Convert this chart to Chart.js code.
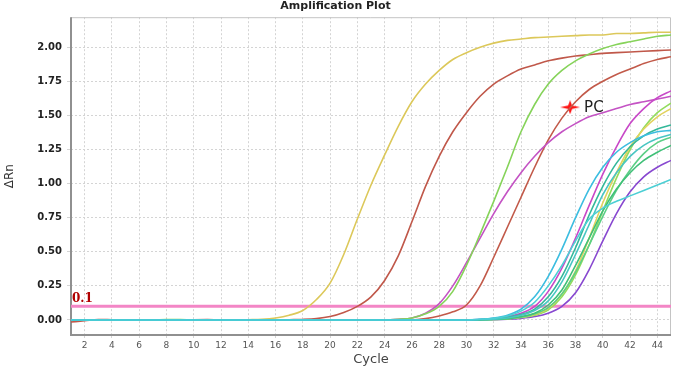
<!DOCTYPE html>
<html>
<head>
<meta charset="utf-8">
<script src="https://cdn.jsdelivr.net/npm/chart.js@4"></script>
<style>
html,body{margin:0;padding:0;background:#fff;}
#wrap{width:680px;height:369px;position:relative;}
</style>
</head>
<body>
<div id="wrap"><canvas id="c"></canvas></div>
<script>
const chartTitle = 'Amplification Plot';
const xTitle = 'Cycle';
const yTitle = 'ΔRn';
const cycles = [1,2,3,4,5,6,7,8,9,10,11,12,13,14,15,16,17,18,19,20,21,22,23,24,25,26,27,28,29,30,31,32,33,34,35,36,37,38,39,40,41,42,43,44,45];
const xTickValues = [2,4,6,8,10,12,14,16,18,20,22,24,26,28,30,32,34,36,38,40,42,44];
const yTickValues = [0,0.25,0.5,0.75,1.0,1.25,1.5,1.75,2.0];
const threshold = 0.1;
const thresholdLabel = '0.1';
const pcPoint = [37.6, 1.56];
const pcLabel = 'PC';

const yellowEarly = [0,0,0,0,0,0,0,0,0,0,0,0,0,0.002,0.005,0.015,0.035,0.07,0.15,0.27,0.48,0.74,0.99,1.21,1.42,1.6,1.73,1.83,1.91,1.96,2.0,2.03,2.05,2.06,2.07,2.075,2.08,2.085,2.09,2.09,2.1,2.1,2.105,2.11,2.11];
const red1 = [-0.015,-0.006,0.004,0.002,0,0,0,0,0,0.002,0.003,0,0,0,0,0,0.002,0.004,0.01,0.025,0.055,0.1,0.17,0.29,0.47,0.72,0.98,1.2,1.38,1.52,1.64,1.73,1.79,1.84,1.87,1.9,1.92,1.935,1.945,1.955,1.96,1.965,1.97,1.975,1.98];
const green1 = [0,0,0,0,0,0,0,0.003,0.003,0,0,0,0,0,0,0,0,0,0,0,0,0,0,0,0.005,0.015,0.045,0.1,0.21,0.4,0.63,0.87,1.12,1.38,1.58,1.73,1.83,1.9,1.95,1.99,2.02,2.04,2.06,2.08,2.09];
const magentaPC = [0,0,0,0,0,0,0,0,0,0,0,0,0,0,0,0,0,0,0,0,0,0,0,0,0.005,0.015,0.05,0.12,0.25,0.42,0.6,0.78,0.94,1.08,1.2,1.3,1.38,1.44,1.49,1.52,1.55,1.58,1.6,1.62,1.64];
const red2 = [0,0,0,0,0,0,0,0,0,0,0,0,0,0,0,0,0,0,0,0,0,0,0,0,0,0,0.01,0.03,0.06,0.11,0.25,0.46,0.68,0.9,1.12,1.32,1.48,1.6,1.69,1.75,1.8,1.84,1.88,1.91,1.93];
const cyanA = [0,0,0,0,0,0,0,0,0,0,0,0,0,0,0,0,0,0,0,0,0,0,0,0,0,0,0,0,0,0,0.005,0.015,0.035,0.08,0.17,0.32,0.52,0.75,0.96,1.12,1.23,1.3,1.35,1.38,1.39];
const cyanPlateau = [0,0,0,0,0,0,0,0,0,0,0,0,0,0,0,0,0,0,0,0,0,0,0,0,0,0,0,0,0,0,0.005,0.012,0.03,0.065,0.13,0.25,0.4,0.58,0.74,0.82,0.87,0.91,0.95,0.99,1.03];
const magenta2 = [0,0,0,0,0,0,0,0,0,0,0,0,0,0,0,0,0,0,0,0,0,0,0,0,0,0,0,0,0,0,0.003,0.01,0.025,0.05,0.1,0.21,0.38,0.6,0.84,1.07,1.27,1.44,1.55,1.63,1.68];
const teal = [0,0,0,0,0,0,0,0,0,0,0,0,0,0,0,0,0,0,0,0,0,0,0,0,0,0,0,0,0,0,0.003,0.008,0.02,0.04,0.08,0.17,0.32,0.53,0.77,0.98,1.15,1.27,1.35,1.4,1.43];
const cyan5 = [0,0,0,0,0,0,0,0,0,0,0,0,0,0,0,0,0,0,0,0,0,0,0,0,0,0,0,0,0,0,0.002,0.006,0.015,0.035,0.07,0.14,0.28,0.48,0.7,0.92,1.08,1.2,1.28,1.33,1.36];
const green3 = [0,0,0,0,0,0,0,0,0,0,0,0,0,0,0,0,0,0,0,0,0,0,0,0,0,0,0,0,0,0,0.002,0.005,0.01,0.025,0.05,0.11,0.22,0.4,0.6,0.8,0.96,1.08,1.17,1.23,1.28];
const yellow2 = [0,0,0,0,0,0,0,0,0,0,0,0,0,0,0,0,0,0,0,0,0,0,0,0,0,0,0,0,0,0,0.002,0.005,0.01,0.02,0.04,0.085,0.19,0.36,0.6,0.86,1.08,1.27,1.4,1.49,1.55];
const lightGreen = [0,0,0,0,0,0,0,0,0,0,0,0,0,0,0,0,0,0,0,0,0,0,0,0,0,0,0,0,0,0,0.001,0.004,0.008,0.018,0.035,0.075,0.17,0.33,0.55,0.8,1.04,1.25,1.41,1.52,1.59];
const green2 = [0,0,0,0,0,0,0,0,0,0,0,0,0,0,0,0,0,0,0,0,0,0,0,0,0,0,0,0,0,0,0.001,0.004,0.01,0.02,0.045,0.09,0.19,0.35,0.55,0.76,0.95,1.1,1.22,1.3,1.34];
const purple = [0,0,0,0,0,0,0,0,0,0,0,0,0,0,0,0,0,0,0,0,0,0,0,0,0,0,0,0,0,0,0.001,0.002,0.005,0.012,0.025,0.05,0.1,0.2,0.37,0.58,0.78,0.94,1.05,1.12,1.17];

const seriesList = [
  [cyanPlateau,'#4ccfd4'],[cyanA,'#3cbde0'],[cyan5,'#48c6c2'],[teal,'#34b89a'],
  [green3,'#40c078'],[green2,'#5ccf86'],[yellow2,'#e2d25e'],[lightGreen,'#92dc5c'],
  [purple,'#8848d0'],[magenta2,'#c848c8'],
  [green1,'#86d35a'],[magentaPC,'#c453c4'],[red2,'#c25a4a'],
  [yellowEarly,'#dcc85a'],[red1,'#c0584a']
];

const datasets = seriesList.map(([vals,color]) => ({
  data: cycles.map((c,i) => ({x:c, y:vals[i]})),
  borderColor: color, borderWidth: 1.6, pointRadius: 0,
  cubicInterpolationMode: 'monotone', fill: false
}));
datasets.push({
  data: [{x:cycles[0], y:threshold},{x:cycles[cycles.length-1], y:threshold}],
  borderColor:'#f386c6', borderWidth:3, pointRadius:0, fill:false
});
const star = document.createElement('canvas');
star.width = 20; star.height = 14;
(function(){
  const g = star.getContext('2d');
  g.fillStyle = '#ff1414';
  g.beginPath();
  g.moveTo(0,7); g.lineTo(8,5.3); g.lineTo(10,0); g.lineTo(12,5.3);
  g.lineTo(20,7); g.lineTo(12,8.7); g.lineTo(10,14); g.lineTo(8,8.7);
  g.closePath(); g.fill();
})();
datasets.push({
  type:'scatter',
  data:[{x:pcPoint[0], y:pcPoint[1]}],
  pointStyle: star, pointRadius: 8, showLine:false
});

const FONT = 'DejaVu Sans';

const framePlugin = {
  id:'frame',
  beforeDatasetsDraw(chart){
    const {ctx, chartArea:a} = chart;
    ctx.save();
    ctx.setLineDash([]);
    ctx.strokeStyle = '#c4c4c4'; ctx.lineWidth = 1;
    ctx.beginPath();
    ctx.moveTo(a.left, a.top+0.5); ctx.lineTo(a.right-0.5, a.top+0.5); ctx.lineTo(a.right-0.5, a.bottom);
    ctx.stroke();
    ctx.strokeStyle = '#909090'; ctx.lineWidth = 2;
    ctx.beginPath();
    ctx.moveTo(a.left, a.top); ctx.lineTo(a.left, a.bottom); ctx.lineTo(a.right, a.bottom);
    ctx.stroke();
    ctx.restore();
  },
  afterDatasetsDraw(chart){
    const {ctx, scales:{x,y}} = chart;
    ctx.save();
    ctx.fillStyle = '#b00000';
    ctx.font = 'bold 12px "DejaVu Serif"';
    ctx.textAlign = 'left'; ctx.textBaseline = 'bottom';
    ctx.fillText(thresholdLabel, x.getPixelForValue(cycles[0]) + 1, y.getPixelForValue(threshold) - 1);
    ctx.fillStyle = '#222';
    ctx.font = '15px "DejaVu Sans"';
    ctx.textBaseline = 'middle';
    ctx.fillText(pcLabel, x.getPixelForValue(pcPoint[0]) + 14, y.getPixelForValue(pcPoint[1]) + 1);
    ctx.restore();
  }
};

new Chart(document.getElementById('c'), {
  type:'line',
  data:{datasets},
  plugins:[framePlugin],
  options:{
    responsive:true, maintainAspectRatio:false, animation:false,
    devicePixelRatio:1,
    layout:{padding:{left:0,right:9,top:0,bottom:0}},
    plugins:{
      legend:{display:false}, tooltip:{enabled:false},
      title:{display:true, text:chartTitle, color:'#222',
        font:{family:FONT, size:11, weight:'bold'}, padding:{top:0,bottom:4}}
    },
    scales:{
      x:{type:'linear', min:1, max:45,
        afterBuildTicks(s){ s.ticks = xTickValues.map(v=>({value:v})); },
        afterFit(s){ s.height = 34; },
        grid:{color:'#d4d4d4', lineWidth:1, tickLength:3, drawTicks:true},
        border:{display:false, dash:[2,2]},
        ticks:{color:'#555', padding:2, font:{family:FONT, size:9}, maxRotation:0, autoSkip:false},
        title:{display:true, text:xTitle, color:'#444', font:{family:FONT, size:13}, padding:{top:0,bottom:2}}
      },
      y:{type:'linear', min:-0.11, max:2.22,
        afterBuildTicks(s){ s.ticks = yTickValues.map(v=>({value:v})); },
        afterFit(s){ s.width = 71; },
        grid:{color:'#d4d4d4', lineWidth:1, tickLength:4, drawTicks:true},
        border:{display:false, dash:[2,2]},
        ticks:{color:'#222', padding:5, font:{family:FONT, size:10, weight:'bold'},
          callback:(v)=>Number(v).toFixed(2)},
        title:{display:true, text:yTitle, color:'#333', font:{family:FONT, size:12}, padding:{top:3,bottom:0}}
      }
    }
  }
});
</script>
</body>
</html>
